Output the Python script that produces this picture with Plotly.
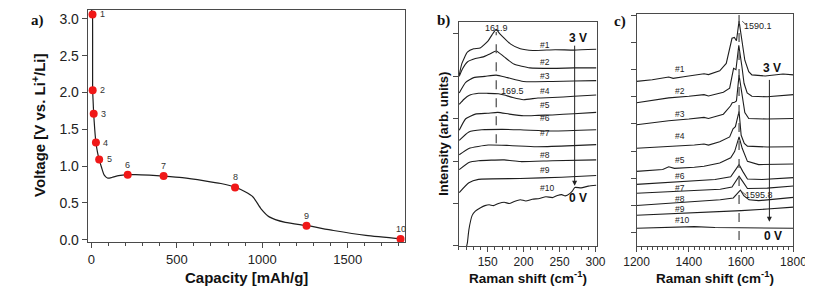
import plotly.graph_objects as go

# ---------------- Panel a: voltage profile ----------------
CAP_CURVE = [0, 5, 7, 8, 11, 14, 20, 27, 36, 46, 60, 75, 94, 120, 160, 213, 260, 340, 423,
             532, 663, 758, 845, 900, 946, 993, 1041, 1135, 1265, 1417, 1606, 1820]
V_CURVE = [3.12, 3.1, 3.06, 2.03, 1.86, 1.71, 1.5, 1.32, 1.19, 1.09, 0.98, 0.88, 0.838, 0.845,
           0.87, 0.883, 0.885, 0.877, 0.864, 0.843, 0.80, 0.763, 0.71, 0.65, 0.58, 0.42, 0.31,
           0.235, 0.19, 0.125, 0.058, 0.01]
CAP_PTS = [7, 8, 14, 27, 46, 213, 423, 841, 1259, 1809]
V_PTS = [3.06, 2.03, 1.71, 1.32, 1.09, 0.883, 0.864, 0.71, 0.19, 0.01]
PT_LABELS = ["1", "2", "3", "4", "5", "6", "7", "8", "9", "10"]

# ---------------- Panel b: low-wavenumber Raman ----------------
B_SHIFT = [
    [110.4, 114, 121.7, 130.5, 139.5, 150.6, 156, 161.9, 166, 170.7, 182, 195.4, 213, 244, 270, 301],
    [110.4, 115, 121.7, 132.8, 143.9, 152.9, 161.9, 173, 186.4, 208.8, 240, 270, 301],
    [110.4, 119.4, 130.5, 146.2, 161.9, 177.4, 199.8, 240, 270, 301],
    [110.4, 117, 123.8, 137.2, 150, 165, 173, 185, 199.8, 220, 240, 270, 301],
    [110.4, 119.4, 132.8, 150, 164, 180, 199.8, 220, 240, 270, 301],
    [110.4, 123.8, 141.8, 170, 195.4, 240, 301],
    [110.4, 123.8, 150.6, 180, 217.6, 260, 301],
    [110.4, 123.8, 137.2, 173, 195.4, 240, 301],
    [110.4, 123.8, 137.2, 195.4, 253, 301],
    [120.5, 121.7, 123.8, 128.4, 132.8, 140, 146.2, 152, 158, 165, 173, 180, 187, 195.4, 203,
     212, 222, 231, 240, 247, 253, 258, 264.6, 268, 271.3, 280, 290, 301],
]
B_INT = [
    [4.03, 4.3, 4.57, 4.65, 4.67, 4.84, 4.98, 5.11, 5.02, 4.94, 4.76, 4.65, 4.61, 4.63, 4.62, 4.64],
    [4.0, 4.18, 4.34, 4.42, 4.46, 4.53, 4.6, 4.46, 4.29, 4.2, 4.19, 4.2, 4.2],
    [3.61, 3.86, 3.97, 4.0, 4.03, 3.97, 3.88, 3.88, 3.89, 3.9],
    [3.34, 3.46, 3.55, 3.6, 3.6, 3.59, 3.56, 3.5, 3.45, 3.49, 3.5, 3.53, 3.56],
    [2.73, 3.0, 3.11, 3.13, 3.15, 3.11, 3.07, 3.08, 3.09, 3.12, 3.15],
    [2.49, 2.69, 2.74, 2.75, 2.74, 2.71, 2.74],
    [2.15, 2.3, 2.38, 2.37, 2.34, 2.36, 2.39],
    [1.8, 1.97, 2.01, 2.03, 1.99, 2.01, 2.03],
    [1.26, 1.49, 1.57, 1.59, 1.62, 1.66],
    [-0.02, 0.07, 0.38, 0.72, 0.82, 0.9, 0.95, 0.97, 0.95, 1.0, 1.03, 1.0, 1.05, 1.09, 1.06,
     1.1, 1.12, 1.16, 1.14, 1.19, 1.21, 1.18, 1.24, 1.3, 1.38, 1.37, 1.41, 1.43],
]
B_LABELS = ["#1", "#2", "#3", "#4", "#5", "#6", "#7", "#8", "#9", "#10"]
B_LABEL_X = [230, 230, 230, 230, 230, 230, 230, 230, 230, 233]
B_LABEL_Y = [4.75, 4.34, 4.0, 3.66, 3.32, 3.01, 2.66, 2.15, 1.78, 1.36]

# ---------------- Panel c: G-band Raman ----------------
C_SHIFT = [
    [1200, 1260, 1323, 1340, 1380, 1421, 1458, 1475, 1518, 1543, 1558, 1565, 1574, 1582, 1592,
     1598, 1604, 1614, 1629, 1641, 1692, 1741, 1760, 1800],
    [1200, 1323, 1400, 1458, 1475, 1532, 1556, 1566, 1571, 1580, 1591, 1603, 1611, 1623, 1641,
     1700, 1800],
    [1200, 1323, 1400, 1458, 1475, 1532, 1559, 1566, 1575, 1582, 1592, 1603, 1614, 1629, 1700, 1800],
    [1200, 1323, 1421, 1458, 1475, 1518, 1556, 1569, 1578, 1592, 1600, 1612, 1624, 1700, 1800],
    [1200, 1300, 1323, 1345, 1421, 1458, 1518, 1560, 1575, 1592, 1604, 1624, 1667, 1800],
    [1200, 1323, 1421, 1500, 1560, 1580, 1592, 1606, 1624, 1680, 1800],
    [1200, 1323, 1421, 1520, 1565, 1580, 1592, 1605, 1624, 1700, 1800],
    [1200, 1323, 1421, 1520, 1570, 1585, 1597, 1610, 1630, 1667, 1800],
    [1200, 1323, 1421, 1520, 1600, 1700, 1800],
    [1200, 1300, 1360, 1421, 1500, 1560, 1620, 1700, 1800],
]
C_INT = [
    [5.57, 5.63, 5.73, 5.68, 5.74, 5.8, 5.85, 5.82, 5.96, 6.23, 6.83, 7.16, 7.19, 7.07, 7.79,
     7.43, 6.95, 6.35, 5.93, 5.81, 5.77, 5.81, 5.84, 5.81],
    [4.78, 4.96, 5.02, 5.08, 5.03, 5.17, 5.32, 5.8, 6.05, 6.0, 6.9, 6.11, 5.5, 5.14, 5.02, 5.0, 5.08],
    [3.97, 4.12, 4.18, 4.24, 4.2, 4.36, 4.66, 4.78, 4.8, 4.85, 5.8, 5.14, 4.42, 4.2, 4.18, 4.2],
    [3.1, 3.16, 3.22, 3.26, 3.22, 3.34, 3.52, 3.82, 3.9, 4.46, 3.58, 3.28, 3.18, 3.15, 3.16],
    [2.25, 2.32, 2.42, 2.36, 2.4, 2.44, 2.56, 2.75, 2.98, 3.52, 3.1, 2.62, 2.5, 2.52],
    [1.77, 1.84, 1.89, 1.95, 2.05, 2.32, 2.5, 2.25, 1.97, 1.95, 2.02],
    [1.44, 1.5, 1.53, 1.59, 1.67, 1.89, 2.07, 1.89, 1.62, 1.63, 1.71],
    [0.99, 1.06, 1.12, 1.2, 1.27, 1.42, 1.56, 1.35, 1.2, 1.17, 1.29],
    [0.63, 0.68, 0.72, 0.75, 0.8, 0.86, 0.93],
    [0.15, 0.18, 0.2, 0.21, 0.18, 0.17, 0.18, 0.15, 0.15],
]
C_LABELS = ["#1", "#2", "#3", "#4", "#5", "#6", "#7", "#8", "#9", "#10"]
C_LABEL_X = [1368, 1368, 1368, 1368, 1368, 1368, 1368, 1368, 1368, 1374]
C_LABEL_Y = [6.01, 5.2, 4.38, 3.55, 2.68, 2.07, 1.65, 1.23, 0.85, 0.45]

B_PEAKS = [161.9, 169.5]
C_PEAKS = [1590.1, 1595.8]

W, H = 813, 286
FONT = "Liberation Sans, Arial, sans-serif"
SERIF = "Liberation Serif, Times New Roman, serif"
LINE = "#1e1e1e"
AX = "#4a4a4a"

fig = go.Figure()

# Panel a
fig.add_trace(go.Scatter(x=CAP_CURVE, y=V_CURVE, mode="lines",
                         line=dict(color=LINE, width=1.2, shape="spline", smoothing=0.6),
                         xaxis="x", yaxis="y", hoverinfo="skip"))
fig.add_trace(go.Scatter(x=CAP_PTS, y=V_PTS, mode="markers",
                         marker=dict(color="#f01818", size=8), xaxis="x", yaxis="y", cliponaxis=False))

# Panel b
for xs, ys in zip(B_SHIFT, B_INT):
    fig.add_trace(go.Scatter(x=xs, y=ys, mode="lines",
                             line=dict(color=LINE, width=1.1, shape="spline", smoothing=0.5),
                             xaxis="x2", yaxis="y2"))
# Panel c
for xs, ys in zip(C_SHIFT, C_INT):
    fig.add_trace(go.Scatter(x=xs, y=ys, mode="lines",
                             line=dict(color=LINE, width=1.1),
                             xaxis="x3", yaxis="y3"))


def txt(x, y, text, size, xref="paper", yref="paper", color="#222", family=FONT, **kw):
    d = dict(x=x, y=y, xref=xref, yref=yref, text=text, showarrow=False,
             xanchor="center", yanchor="middle",
             font=dict(size=size, color=color, family=family))
    d.update(kw)
    return d


annotations = []
# point labels in a
for i, (cx, vy, lab) in enumerate(zip(CAP_PTS, V_PTS, PT_LABELS)):
    if i < 5:
        annotations.append(txt(cx, vy, lab, 9, "x", "y", "#333", xshift=10))
    else:
        annotations.append(txt(cx, vy, lab, 9, "x", "y", "#333", yshift=10))
for lx, ly, lab in zip(B_LABEL_X, B_LABEL_Y, B_LABELS):
    annotations.append(txt(lx, ly, lab, 8.5, "x2", "y2"))
for lx, ly, lab in zip(C_LABEL_X, C_LABEL_Y, C_LABELS):
    annotations.append(txt(lx, ly, lab, 8.5, "x3", "y3"))

annotations += [
    txt(B_PEAKS[0], 5.15, f"{B_PEAKS[0]}", 9, "x2", "y2"),
    txt(184, 3.66, f"{B_PEAKS[1]}", 9, "x2", "y2"),
    txt(1663, 7.61, f"{C_PEAKS[0]}", 9, "x3", "y3"),
    txt(1670, 1.39, f"{C_PEAKS[1]}", 9, "x3", "y3"),
    txt(275, 4.9, "<b>3 V</b>", 12, "x2", "y2", "#111"),
    txt(276, 1.13, "<b>0 V</b>", 12, "x2", "y2", "#111"),
    txt(1718, 6.05, "<b>3 V</b>", 12, "x3", "y3", "#111"),
    txt(1720, -0.15, "<b>0 V</b>", 12, "x3", "y3", "#111"),
    dict(x=271, y=1.42, ax=271, ay=4.76, xref="x2", yref="y2", axref="x2", ayref="y2",
         text="", showarrow=True, arrowhead=2, arrowsize=1, arrowwidth=1, arrowcolor="#222"),
    dict(x=1708, y=0.39, ax=1708, ay=5.68, xref="x3", yref="y3", axref="x3", ayref="y3",
         text="", showarrow=True, arrowhead=2, arrowsize=1, arrowwidth=1, arrowcolor="#222"),
    txt(17 / W, 1 - 13 / H, "<b>a)</b>", 15, color="#111", family=SERIF),
    txt(437 / W, 1 - 13 / H, "<b>b)</b>", 15, color="#111", family=SERIF),
    txt(620 / W, 1 - 14 / H, "<b>c)</b>", 15, color="#111", family=SERIF),
    txt(233 / W, 1 - 275 / H, "<b>Capacity [mAh/g]</b>", 15, color="#111"),
    txt(18 / W, 1 - 120 / H, "<b>Voltage [V vs. Li<sup>+</sup>/Li]</b>", 15, color="#111",
        textangle=-90),
    txt(437 / W, 1 - 128 / H, "<b>Intensity (arb. units)</b>", 13, color="#111", textangle=-90),
    txt(524 / W, 1 - 275 / H, "<b>Raman shift (cm<sup>-1</sup>)</b>", 13.5, color="#111"),
    txt(718 / W, 1 - 275 / H, "<b>Raman shift (cm<sup>-1</sup>)</b>", 13.5, color="#111"),
]

shapes = [
    dict(type="line", xref="x2", yref="y2", x0=B_PEAKS[0], x1=B_PEAKS[0], y0=2.42, y1=5.05,
         line=dict(color="#555", width=1.3, dash="dash")),
    dict(type="line", xref="x3", yref="y3", x0=1592, x1=1592, y0=-0.28, y1=8.06,
         line=dict(color="#555", width=1.3, dash="dash")),
    dict(type="line", xref="x3", yref="y3", x0=1604, x1=1620, y0=7.79, y1=7.65,
         line=dict(color="#333", width=0.8)),
    dict(type="line", xref="x3", yref="y3", x0=1599, x1=1620, y0=1.53, y1=1.36,
         line=dict(color="#333", width=0.8)),
]


def xax(domain, rng, dtick, minor_dtick, anchor, size):
    return dict(domain=domain, range=rng, dtick=dtick, showline=True, linecolor=AX, linewidth=1,
                mirror=True, ticks="outside", ticklen=5, tickcolor=AX, tickwidth=1,
                minor=dict(dtick=minor_dtick, ticks="outside", ticklen=3, tickcolor=AX),
                showgrid=False, zeroline=False, anchor=anchor,
                tickfont=dict(size=size, color="#222", family=FONT))


def yax(domain, rng, dtick, anchor, labels, size=13):
    return dict(domain=domain, range=rng, dtick=dtick, showline=True, linecolor=AX, linewidth=1,
                mirror=True, ticks="outside", ticklen=5, tickcolor=AX, tickwidth=1,
                showgrid=False, zeroline=False, anchor=anchor, showticklabels=labels,
                tickformat=".1f", tickfont=dict(size=size, color="#222", family=FONT))


fig.update_layout(
    width=W, height=H, margin=dict(l=0, r=0, t=0, b=0),
    paper_bgcolor="white", plot_bgcolor="white", showlegend=False,
    xaxis=xax([69 / W, 397 / W], [-21, 1834], 500, 100, "y", 13),
    yaxis=yax([1 - 239 / H, 1 - 2 / H], [-0.031, 3.12], 0.5, "x", True, 14),
    xaxis2=xax([453 / W, 595.7 / W], [110, 302], 50, 10, "y2", 12),
    yaxis2=yax([1 - 243 / H, 1 - 14 / H], [0, 5.29], 1, "x2", False),
    xaxis3=xax([636.7 / W, 799 / W], [1200, 1800], 200, 20, "y3", 12),
    yaxis3=yax([1 - 243 / H, 1 - 6 / H], [-0.5, 8.06], 1, "x3", False),
    annotations=annotations, shapes=shapes,
)
fig.write_html("out.html")
